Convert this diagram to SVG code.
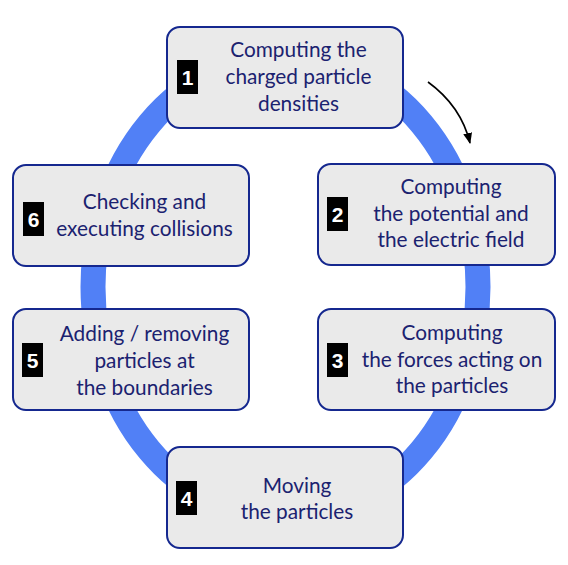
<svg xmlns="http://www.w3.org/2000/svg" width="568" height="565" viewBox="0 0 568 565">
<style>
.box{fill:#eaeaea;stroke:#15288f;stroke-width:2}
.t{font-family:Lato,"Open Sans","Liberation Sans",sans-serif;font-size:20.8px;fill:#1b2270;text-anchor:middle}
.b{fill:#000}
.n{font-family:"Liberation Sans",Arial,sans-serif;font-weight:bold;font-size:21px;fill:#fff;text-anchor:middle}
</style>
<defs>
<marker id="ah" markerWidth="12" markerHeight="12" refX="10" refY="5" orient="auto" markerUnits="userSpaceOnUse">
<path d="M0,0.5 L11,5 L0,9.5 Z" fill="#000"/>
</marker>
</defs>
<g id="connectors">
<ellipse cx="285.5" cy="287" rx="192.5" ry="231" fill="none" stroke="#5180f6" stroke-width="25"/>
<path d="M428,82 Q461,106 470,143" fill="none" stroke="#000" stroke-width="1.6" marker-end="url(#ah)"/>
</g>
<g id="node1">
<rect class="box" x="167" y="27" width="236" height="101" rx="13"/>
<rect class="b" x="177" y="60" width="21" height="34"/>
<text class="n" x="187.5" y="85">1</text>
<text class="t" x="298.5" y="57">Computing the</text>
<text class="t" x="298.5" y="84">charged particle</text>
<text class="t" x="298.5" y="111">densities</text>
</g>
<g id="node2">
<rect class="box" x="318" y="164" width="237" height="101" rx="13"/>
<rect class="b" x="327" y="197" width="21" height="34"/>
<text class="n" x="337.5" y="222">2</text>
<text class="t" x="451" y="194">Computing</text>
<text class="t" x="451" y="221">the potential and</text>
<text class="t" x="451" y="247">the electric field</text>
</g>
<g id="node3">
<rect class="box" x="318" y="309" width="237" height="101" rx="13"/>
<rect class="b" x="327" y="343" width="21" height="34"/>
<text class="n" x="337.5" y="368">3</text>
<text class="t" x="452" y="340">Computing</text>
<text class="t" x="452" y="367">the forces acting on</text>
<text class="t" x="452" y="393">the particles</text>
</g>
<g id="node4">
<rect class="box" x="167" y="447" width="236" height="101" rx="13"/>
<rect class="b" x="176" y="481" width="21" height="34"/>
<text class="n" x="186.5" y="506">4</text>
<text class="t" x="297" y="493">Moving</text>
<text class="t" x="297" y="519">the particles</text>
</g>
<g id="node5">
<rect class="box" x="13" y="309" width="236" height="101" rx="13"/>
<rect class="b" x="22" y="343" width="21" height="34"/>
<text class="n" x="32.5" y="368">5</text>
<text class="t" x="144.5" y="341">Adding / removing</text>
<text class="t" x="144.5" y="368">particles at</text>
<text class="t" x="144.5" y="395">the boundaries</text>
</g>
<g id="node6">
<rect class="box" x="13" y="165" width="236" height="101" rx="13"/>
<rect class="b" x="23" y="202" width="21" height="34"/>
<text class="n" x="33.5" y="227">6</text>
<text class="t" x="144.5" y="209">Checking and</text>
<text class="t" x="144.5" y="236">executing collisions</text>
</g>
</svg>
